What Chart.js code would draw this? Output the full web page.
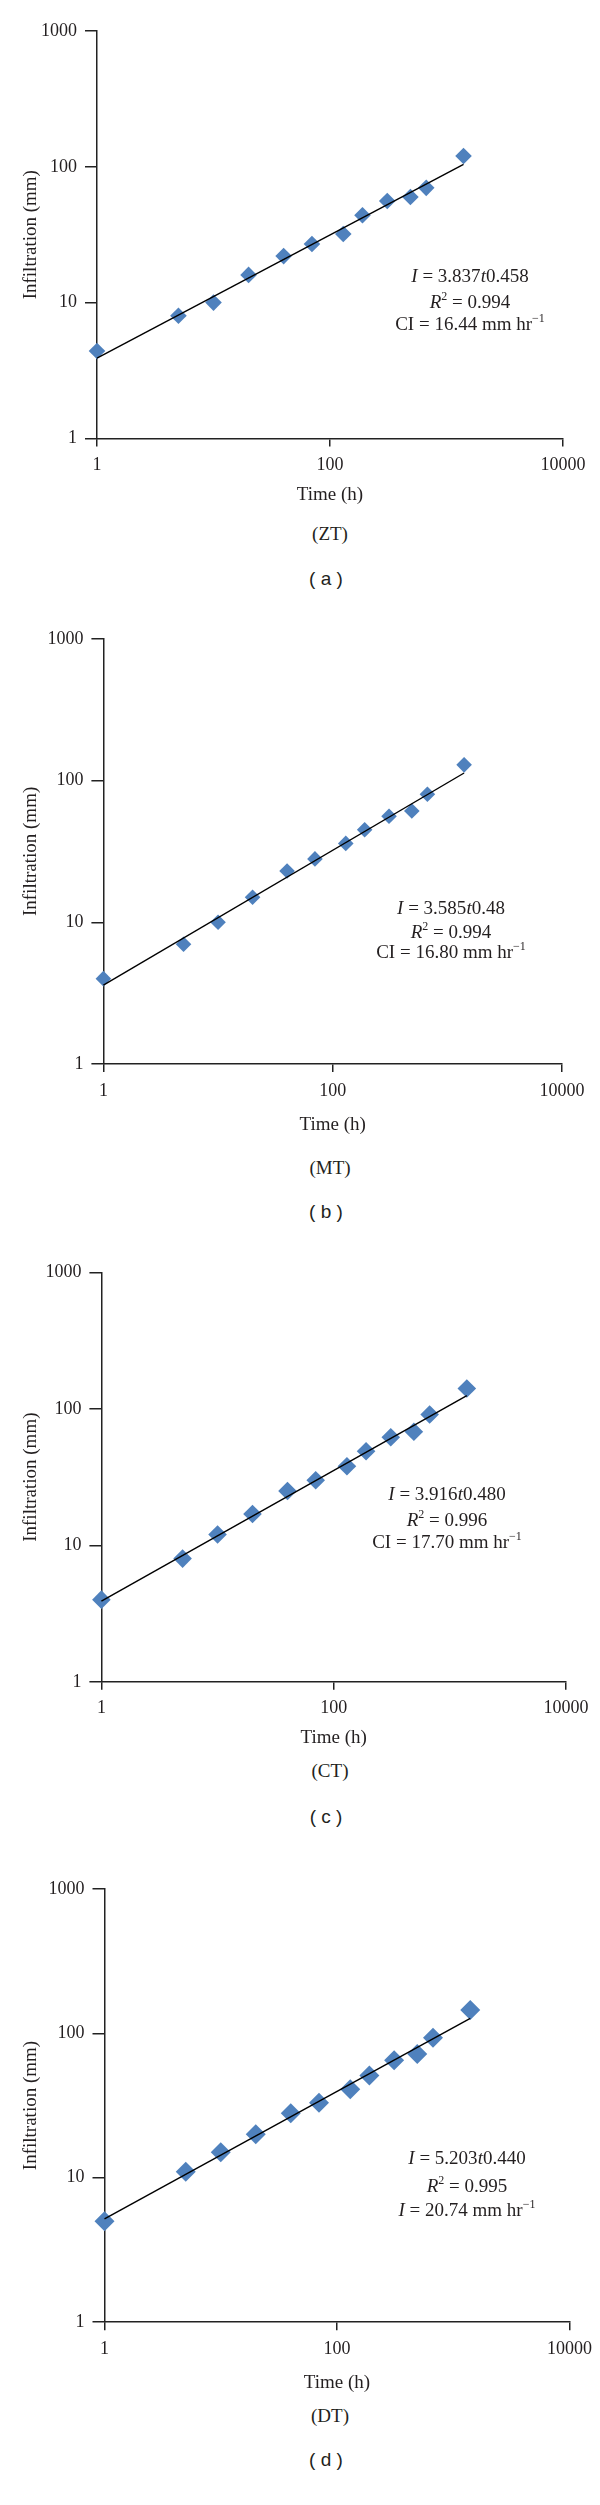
<!DOCTYPE html>
<html lang="en">
<head>
<meta charset="UTF-8">
<title>Cumulative infiltration vs time</title>
<script src="https://cdn.jsdelivr.net/npm/chart.js"></script>
<style>
  body { margin: 0; background: #fff; }
  #page { position: relative; width: 600px; height: 2505px; overflow: hidden; }
  canvas { position: absolute; left: 0; }
  .txt { position: absolute; font-family: "Liberation Serif", serif; font-size: 19px; color: #231f20; text-align: center; white-space: nowrap; }
  .sub { font-family: "Liberation Sans", Arial, sans-serif; font-size: 19px; }
  sup { font-size: 12px; vertical-align: 8px; line-height: 0; }
</style>
</head>
<body>
<div id="page"></div>
<script>
// time (h), same for all four plots
const times = [1, 5, 10, 20, 40, 70, 130, 190, 310, 490, 670, 1400];
// infiltration (mm)
const zt = [4.4, 8, 10, 16, 22, 27, 32, 44, 56, 60, 70, 120];
const mt = [4, 7, 10, 15, 23, 28, 36, 45, 56, 61, 80, 129];
const ct = [4, 8, 12, 17, 25, 30, 38, 49, 62, 68, 91, 141];
const dt = [5, 11, 15, 20, 28, 33, 41, 51, 65, 72, 93, 145];
// fitted power-law line, end points
const fitTimes = [1, 1400];
const ztFit = [3.9, 104];
const mtFit = [3.6, 113];
const ctFit = [3.9, 125];
const dtFit = [5.2, 127];

const xTicks = [1, 100, 10000];
const yTicks = [1, 10, 100, 1000];

const names = ['(ZT)', '(MT)', '(CT)', '(DT)'];
const letters = ['( a )', '( b )', '( c )', '( d )'];
const series = [zt, mt, ct, dt];
const fits = [ztFit, mtFit, ctFit, dtFit];
const eqs = [
  ['<i>I</i> = 3.837<i>t</i>0.458', '<i>R</i><sup>2</sup> = 0.994', 'CI = 16.44 mm hr<sup>\u22121</sup>'],
  ['<i>I</i> = 3.585<i>t</i>0.48', '<i>R</i><sup>2</sup> = 0.994', 'CI = 16.80 mm hr<sup>\u22121</sup>'],
  ['<i>I</i> = 3.916<i>t</i>0.480', '<i>R</i><sup>2</sup> = 0.996', 'CI = 17.70 mm hr<sup>\u22121</sup>'],
  ['<i>I</i> = 5.203<i>t</i>0.440', '<i>R</i><sup>2</sup> = 0.995', '<i>I</i> = 20.74 mm hr<sup>\u22121</sup>']
];

// page placement of each panel
const layout = [
  {top: 0,    areaTop: 31,     areaBottom: 438.6,  left: 97,    right: 563, time: 494.8,  cap1: 533.5,  cap2: 578.8,  eqX: 470, eqY: [275.6, 302, 324.4], r: 8.3},
  {top: 620,  areaTop: 638.6,  areaBottom: 1064.4, left: 103.4, right: 562, time: 1125,   cap1: 1167.8, cap2: 1212.3, eqX: 451, eqY: [908.4, 931.7, 952.2], r: 7.8},
  {top: 1240, areaTop: 1272.5, areaBottom: 1681.7, left: 101.4, right: 566, time: 1737.5, cap1: 1771,   cap2: 1816.8, eqX: 447, eqY: [1494.4, 1519.5, 1542], r: 9.3},
  {top: 1870, areaTop: 1887,   areaBottom: 2322.6, left: 104.5, right: 570, time: 2383,   cap1: 2415.9, cap2: 2460.4, eqX: 467, eqY: [2157.6, 2185.5, 2209.5], r: 10}
];

const page = document.getElementById('page');
const tickFont = {family: "'Liberation Serif', serif", size: 18};
const titleFont = {family: "'Liberation Serif', serif", size: 19};
const ink = '#231f20';

function addText(html, cx, cy, cls) {
  const d = document.createElement('div');
  d.className = 'txt' + (cls ? ' ' + cls : '');
  d.innerHTML = html;
  d.style.left = (cx - 150) + 'px';
  d.style.width = '300px';
  d.style.top = (cy - 12) + 'px';
  d.style.lineHeight = '24px';
  page.appendChild(d);
}

layout.forEach((L, i) => {
  const xH = L.time + 11.4 - L.areaBottom;
  const cv = document.createElement('canvas');
  const h = Math.round(L.areaBottom + xH - L.top);
  cv.width = 600; cv.height = h;
  cv.style.top = L.top + 'px';
  cv.style.width = '600px'; cv.style.height = h + 'px';
  page.appendChild(cv);

  new Chart(cv, {
    type: 'scatter',
    data: {
      datasets: [
        {
          type: 'line',
          data: fitTimes.map((t, k) => ({x: t, y: fits[i][k]})),
          borderColor: '#000', borderWidth: 1.4, pointRadius: 0,
          fill: false, order: 0, clip: false
        },
        {
          data: times.map((t, k) => ({x: t, y: series[i][k]})),
          pointStyle: 'rectRot', pointRadius: L.r,
          backgroundColor: '#4f81bd', borderColor: '#4f81bd', borderWidth: 0,
          order: 1, clip: false
        }
      ]
    },
    options: {
      responsive: false, animation: false, devicePixelRatio: 1,
      layout: {padding: {top: L.areaTop - L.top, right: 600 - L.right, left: 0, bottom: 0}},
      plugins: {legend: {display: false}, tooltip: {enabled: false}},
      scales: {
        x: {
          type: 'logarithmic', min: 1, max: 10000,
          afterBuildTicks: s => { s.ticks = xTicks.map(v => ({value: v})); },
          afterFit: s => { s.height = xH; },
          ticks: {callback: v => String(v), font: tickFont, color: ink, padding: 8, maxRotation: 0, autoSkip: false},
          grid: {drawOnChartArea: false, drawTicks: true, tickLength: 8, color: '#222', lineWidth: 1.5},
          border: {display: true, color: '#222', width: 1.5},
          title: {display: true, text: 'Time (h)', font: titleFont, color: ink, padding: 0}
        },
        y: {
          type: 'logarithmic', min: 1, max: 1000,
          afterBuildTicks: s => { s.ticks = yTicks.map(v => ({value: v})); },
          afterFit: s => { s.width = L.left; },
          ticks: {callback: v => String(v), font: tickFont, color: ink, padding: 8, autoSkip: false},
          grid: {drawOnChartArea: false, drawTicks: true, tickLength: 12, color: '#222', lineWidth: 1.5},
          border: {display: true, color: '#222', width: 1.5},
          title: {display: true, text: 'Infiltration (mm)', font: titleFont, color: ink, padding: {top: 20, bottom: 0}}
        }
      }
    }
  });

  eqs[i].forEach((line, k) => addText(line, L.eqX, L.eqY[k]));
  addText(names[i], 330, L.cap1);
  addText(letters[i], 326, L.cap2, 'sub');
});
</script>
</body>
</html>
